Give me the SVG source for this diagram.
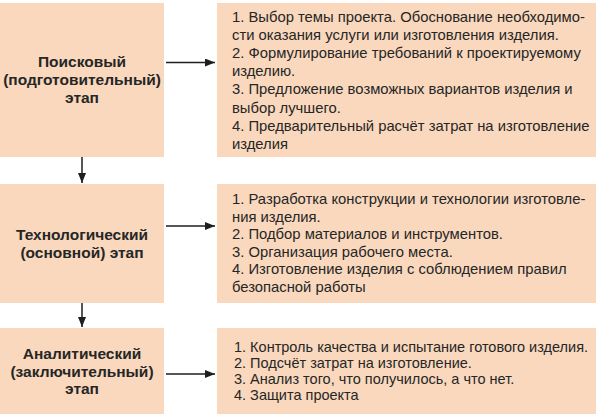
<svg xmlns="http://www.w3.org/2000/svg" width="600" height="414" viewBox="0 0 600 414">
<defs>
<marker id="ah" viewBox="0 0 10 8" refX="10" refY="4" markerWidth="10" markerHeight="8" markerUnits="userSpaceOnUse" orient="auto">
<path d="M0,0 L10,4 L0,8 Z" fill="#1e1e1e"/>
</marker>
<style>
.box{fill:#f9d8bd}
.st{font-family:"Liberation Sans",Arial,sans-serif;font-weight:bold;font-size:15.5px;fill:#262626;text-anchor:middle}
.it{font-family:"Liberation Sans",Arial,sans-serif;font-size:14.8px;fill:#262626}
.it3{font-family:"Liberation Sans",Arial,sans-serif;font-size:14.5px;fill:#262626}
.cn{stroke:#1e1e1e;stroke-width:1.5;fill:none;marker-end:url(#ah)}
</style>
</defs>
<rect width="600" height="414" fill="#ffffff"/>
<g id="stage1">
<rect class="box" x="0" y="3" width="164" height="154"/>
<text class="st" x="82" y="66.5">Поисковый</text>
<text class="st" x="82" y="84.5">(подготовительный)</text>
<text class="st" x="82" y="102.5">этап</text>
</g>
<g id="tasks1">
<rect class="box" x="217" y="3" width="379" height="154"/>
<text class="it" x="232" y="21.5">1. Выбор темы проекта. Обоснование необходимо-</text>
<text class="it" x="232" y="39.7">сти оказания услуги или изготовления изделия.</text>
<text class="it" x="232" y="57.9">2. Формулирование требований к проектируемому</text>
<text class="it" x="232" y="76.1">изделию.</text>
<text class="it" x="232" y="94.3">3. Предложение возможных вариантов изделия и</text>
<text class="it" x="232" y="112.5">выбор лучшего.</text>
<text class="it" x="232" y="130.7">4. Предварительный расчёт затрат на изготовление</text>
<text class="it" x="232" y="148.9">изделия</text>
</g>
<g id="stage2">
<rect class="box" x="0" y="184" width="164" height="119"/>
<text class="st" x="82" y="240">Технологический</text>
<text class="st" x="82" y="258">(основной) этап</text>
</g>
<g id="tasks2">
<rect class="box" x="217" y="184" width="379" height="119"/>
<text class="it" x="232" y="204">1. Разработка конструкции и технологии изготовле-</text>
<text class="it" x="232" y="221.5">ния изделия.</text>
<text class="it" x="232" y="239">2. Подбор материалов и инструментов.</text>
<text class="it" x="232" y="256.5">3. Организация рабочего места.</text>
<text class="it" x="232" y="274">4. Изготовление изделия с соблюдением правил</text>
<text class="it" x="232" y="291.5">безопасной работы</text>
</g>
<g id="stage3">
<rect class="box" x="0" y="328" width="164" height="86"/>
<text class="st" x="82" y="359">Аналитический</text>
<text class="st" x="82" y="376.5">(заключительный)</text>
<text class="st" x="82" y="394">этап</text>
</g>
<g id="tasks3">
<rect class="box" x="217" y="328" width="379" height="86"/>
<text class="it3" x="234" y="352">1. Контроль качества и испытание готового изделия.</text>
<text class="it3" x="234" y="368">2. Подсчёт затрат на изготовление.</text>
<text class="it3" x="234" y="384">3. Анализ того, что получилось, а что нет.</text>
<text class="it3" x="234" y="400">4. Защита проекта</text>
</g>
<g id="connectors">
<line class="cn" x1="166" y1="62.5" x2="215" y2="62.5"/>
<line class="cn" x1="166" y1="226" x2="215" y2="226"/>
<line class="cn" x1="166" y1="374" x2="215" y2="374"/>
<line class="cn" x1="82" y1="157" x2="82" y2="183"/>
<line class="cn" x1="82" y1="303" x2="82" y2="327"/>
</g>
</svg>
